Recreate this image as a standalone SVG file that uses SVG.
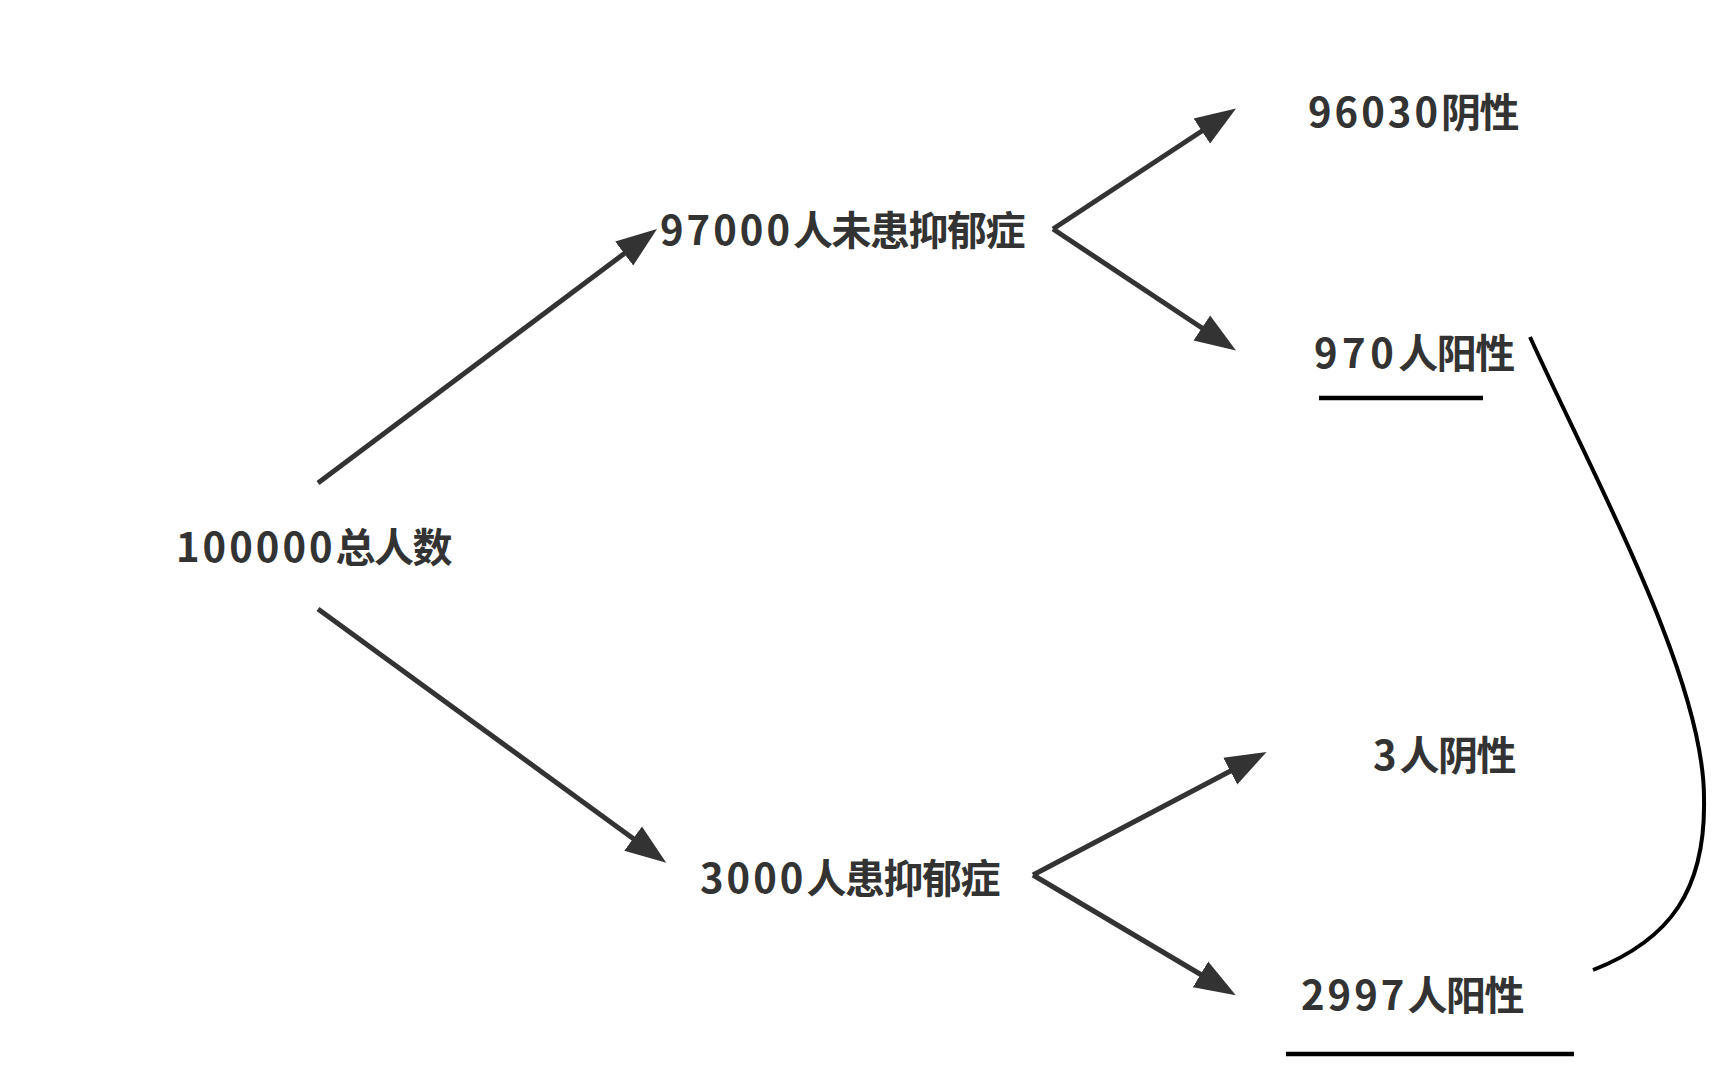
<svg xmlns="http://www.w3.org/2000/svg" width="1730" height="1092" viewBox="0 0 1730 1092">
<style>
.t{font-family:"Noto Sans CJK SC","Noto Sans",sans-serif;font-weight:700;font-size:40px;fill:#333}
.d{letter-spacing:3px}
.c{letter-spacing:-1.5px}
.a{stroke:#333;stroke-width:5;fill:none;marker-end:url(#ah)}
.u{stroke:#000;stroke-width:4.5;fill:none}
</style>
<defs>
<marker id="ah" markerUnits="userSpaceOnUse" markerWidth="42" markerHeight="32" viewBox="0 0 42 32" refX="11" refY="16" orient="auto">
<path d="M0,1 L41,16 L0,31 z" fill="#333"/>
</marker>
</defs>
<rect width="1730" height="1092" fill="#fff"/>
<g id="connectors">
<path class="a" d="M318,483 L633,247"/>
<path class="a" d="M318,609 L642,845"/>
<path class="a" d="M1053,229 L1211,125"/>
<path class="a" d="M1053,229 L1211,334"/>
<path class="a" d="M1033,875 L1240,766"/>
<path class="a" d="M1033,875 L1210,980"/>
<path d="M1530,337 C1600,490 1704,680 1704,798 C1706,890 1670,940 1593,970" stroke="#000" stroke-width="4" fill="none"/>
</g>
<g id="n-total"><text class="t" x="176" y="562"><tspan class="d">100000</tspan><tspan class="c">总人数</tspan></text></g>
<g id="n-healthy"><text class="t" x="660" y="245"><tspan class="d">97000</tspan><tspan class="c">人未患抑郁症</tspan></text></g>
<g id="n-hneg"><text class="t" x="1308" y="127"><tspan class="d">96030</tspan><tspan class="c">阴性</tspan></text></g>
<g id="n-hpos"><text class="t" x="1314" y="368"><tspan class="d" style="letter-spacing:4.5px">970</tspan><tspan class="c">人阳性</tspan></text><line class="u" x1="1319" y1="398" x2="1483" y2="398"/></g>
<g id="n-sick"><text class="t" x="700" y="893"><tspan class="d">3000</tspan><tspan class="c">人患抑郁症</tspan></text></g>
<g id="n-sneg"><text class="t" x="1373" y="770"><tspan class="d">3</tspan><tspan class="c">人阴性</tspan></text></g>
<g id="n-spos"><text class="t" x="1301" y="1010"><tspan class="d">2997</tspan><tspan class="c">人阳性</tspan></text><line class="u" x1="1286" y1="1054" x2="1574" y2="1054"/></g>
</svg>
